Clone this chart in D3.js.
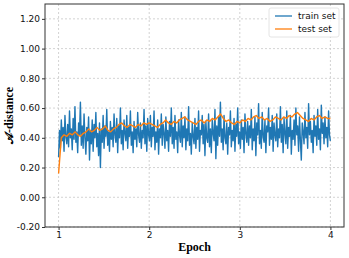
<!doctype html>
<html lang="en-US">
<head>
<meta charset="utf-8">
<title>A-distance per epoch</title>
<script src="https://cdn.jsdelivr.net/npm/d3@7/dist/d3.min.js"></script>
<style>
  html, body {
    margin: 0px;
    padding: 0px;
    background: #fff;
  }
  svg {
    display: block;
  }
  .tick text {
    font: 9px "DejaVu Sans", sans-serif;
    fill: #111;
  }
  .axis-title {
    font-family: "Liberation Serif", "Times New Roman", serif;
    font-weight: bold;
    font-size: 12px;
    fill: #000;
  }
  .legend text {
    font: 9px "DejaVu Sans", sans-serif;
    fill: #111;
  }
</style>
</head>
<body>
<svg id="chart" width="349" height="258"></svg>

<script>
// values
var epochStart = 1;
var epochEnd = 4;
var xTicks = [1, 2, 3, 4];
var yTicks = [-0.2, 0, 0.2, 0.4, 0.6, 0.8, 1.0, 1.2];

// train set: noisy A-distance, sampled evenly from epoch 1 to 4
var trainValues = [
  0.27, 0.45, 0.33, 0.52, 0.38, 0.47, 0.31, 0.55, 0.41, 0.36, 0.49, 0.34, 0.58, 0.40, 0.46,
  0.32, 0.53, 0.39, 0.61, 0.37, 0.44, 0.30, 0.50, 0.42, 0.64, 0.35, 0.48, 0.33, 0.56, 0.40,
  0.29, 0.47, 0.38, 0.54, 0.25, 0.45, 0.36, 0.52, 0.31, 0.49, 0.40, 0.57, 0.34, 0.43, 0.28,
  0.50, 0.20, 0.46, 0.37, 0.55, 0.33, 0.48, 0.41, 0.59, 0.35, 0.44, 0.31, 0.51, 0.39, 0.47,
  0.34, 0.56, 0.42, 0.37, 0.53, 0.30, 0.48, 0.40, 0.60, 0.36, 0.45, 0.32, 0.52, 0.43, 0.38,
  0.55, 0.33, 0.47, 0.41, 0.58, 0.35, 0.44, 0.30, 0.51, 0.39, 0.46, 0.34, 0.57, 0.42, 0.37,
  0.50, 0.33, 0.45, 0.40, 0.59, 0.36, 0.48, 0.31, 0.53, 0.42, 0.38, 0.55, 0.34, 0.47, 0.41,
  0.58, 0.32, 0.44, 0.37, 0.52, 0.29, 0.46, 0.40, 0.56, 0.35, 0.49, 0.43, 0.33, 0.54, 0.38,
  0.45, 0.31, 0.51, 0.41, 0.60, 0.36, 0.47, 0.33, 0.55, 0.39, 0.44, 0.30, 0.52, 0.42, 0.37,
  0.57, 0.34, 0.48, 0.40, 0.54, 0.32, 0.46, 0.38, 0.61, 0.35, 0.43, 0.29, 0.50, 0.41, 0.36,
  0.53, 0.33, 0.47, 0.39, 0.58, 0.31, 0.45, 0.42, 0.55, 0.36, 0.49, 0.28, 0.51, 0.40, 0.37,
  0.56, 0.34, 0.46, 0.30, 0.52, 0.43, 0.38, 0.59, 0.26, 0.48, 0.35, 0.54, 0.41, 0.64, 0.37,
  0.46, 0.32, 0.55, 0.40, 0.36, 0.50, 0.29, 0.47, 0.42, 0.58, 0.34, 0.45, 0.38, 0.53, 0.31,
  0.49, 0.41, 0.60, 0.36, 0.44, 0.33, 0.52, 0.39, 0.47, 0.30, 0.56, 0.43, 0.37, 0.51, 0.35,
  0.48, 0.40, 0.59, 0.32, 0.46, 0.38, 0.54, 0.28, 0.50, 0.42, 0.63, 0.36, 0.45, 0.33, 0.57,
  0.41, 0.37, 0.52, 0.30, 0.48, 0.44, 0.60, 0.35, 0.47, 0.39, 0.55, 0.31, 0.50, 0.42, 0.38,
  0.56, 0.34, 0.46, 0.40, 0.61, 0.37, 0.49, 0.30, 0.53, 0.43, 0.36, 0.58, 0.33, 0.47, 0.41,
  0.55, 0.29, 0.45, 0.39, 0.52, 0.35, 0.60, 0.42, 0.48, 0.31, 0.54, 0.38, 0.25, 0.50, 0.44,
  0.36, 0.57, 0.40, 0.47, 0.33, 0.63, 0.42, 0.51, 0.37, 0.45, 0.30, 0.55, 0.41, 0.48, 0.35,
  0.59, 0.39, 0.46, 0.32, 0.62, 0.43, 0.50, 0.36, 0.54, 0.40, 0.47, 0.34, 0.58, 0.42, 0.38
];

// test set: smoother curve
var testValues = [
  0.16, 0.40, 0.42, 0.41, 0.43, 0.42, 0.44, 0.42, 0.41, 0.43,
  0.44, 0.46, 0.44, 0.45, 0.47, 0.45, 0.46, 0.48, 0.45, 0.44,
  0.46, 0.47, 0.49, 0.50, 0.48, 0.47, 0.49, 0.48, 0.47, 0.49,
  0.48, 0.50, 0.49, 0.50, 0.49, 0.48, 0.47, 0.49, 0.50, 0.52,
  0.50, 0.49, 0.51, 0.50, 0.52, 0.53, 0.54, 0.52, 0.51, 0.50,
  0.49, 0.51, 0.52, 0.50, 0.52, 0.51, 0.53, 0.52, 0.54, 0.56,
  0.53, 0.51, 0.52, 0.50, 0.49, 0.51, 0.50, 0.52, 0.51, 0.53,
  0.52, 0.54, 0.55, 0.53, 0.54, 0.52, 0.53, 0.51, 0.52, 0.54,
  0.53, 0.52, 0.54, 0.53, 0.55, 0.54, 0.56, 0.57, 0.55, 0.53,
  0.52, 0.51, 0.53, 0.52, 0.54, 0.55, 0.53, 0.54, 0.53, 0.53
];

var seriesNames = ["train set", "test set"];
var seriesColors = ["#1f77b4", "#ff7f0e"];

// plot box (window.top is taken, so keep these in an object)
var box = { left: 45, right: 344, top: 4, bottom: 227 };

var svg = d3.select("#chart");

var x = d3.scaleLinear().domain([0.85, 4.15]).range([box.left, box.right]);
var y = d3.scaleLinear().domain([-0.2, 1.3]).range([box.bottom, box.top]);

function toPoints(values) {
  var n = values.length;
  return values.map(function(v, i) {
    return { epoch: epochStart + (epochEnd - epochStart) * i / (n - 1), value: v };
  });
}

// grid
svg.append("g")
  .selectAll("line")
  .data(xTicks)
  .join("line")
  .attr("x1", function(d) { return x(d); })
  .attr("x2", function(d) { return x(d); })
  .attr("y1", box.top)
  .attr("y2", box.bottom)
  .attr("stroke", "#c8c8c8")
  .attr("stroke-width", 0.8)
  .attr("stroke-dasharray", "2,2");

svg.append("g")
  .selectAll("line")
  .data(yTicks)
  .join("line")
  .attr("x1", box.left)
  .attr("x2", box.right)
  .attr("y1", function(d) { return y(d); })
  .attr("y2", function(d) { return y(d); })
  .attr("stroke", "#c8c8c8")
  .attr("stroke-width", 0.8)
  .attr("stroke-dasharray", "2,2");

var line = d3.line()
  .x(function(d) { return x(d.epoch); })
  .y(function(d) { return y(d.value); });

svg.append("path")
  .datum(toPoints(trainValues))
  .attr("fill", "none")
  .attr("stroke", seriesColors[0])
  .attr("stroke-width", 1.4)
  .attr("stroke-linejoin", "round")
  .attr("d", line);

svg.append("path")
  .datum(toPoints(testValues))
  .attr("fill", "none")
  .attr("stroke", seriesColors[1])
  .attr("stroke-width", 1.4)
  .attr("stroke-linejoin", "round")
  .attr("d", line);

// axes
var xAxis = d3.axisBottom(x)
  .tickValues(xTicks)
  .tickFormat(d3.format("d"))
  .tickSizeInner(3)
  .tickSizeOuter(0)
  .tickPadding(2);

var yAxis = d3.axisLeft(y)
  .tickValues(yTicks)
  .tickFormat(function(d) { return d3.format(".2f")(d).replace("\u2212", "-"); })
  .tickSizeInner(3)
  .tickSizeOuter(0)
  .tickPadding(2);

svg.append("g")
  .attr("transform", "translate(0," + box.bottom + ")")
  .call(xAxis)
  .call(function(g) { g.select(".domain").remove(); });

svg.append("g")
  .attr("transform", "translate(" + box.left + ",0)")
  .call(yAxis)
  .call(function(g) { g.select(".domain").remove(); });

svg.selectAll(".tick line").attr("stroke", "#333");

// frame
svg.append("rect")
  .attr("x", box.left)
  .attr("y", box.top)
  .attr("width", box.right - box.left)
  .attr("height", box.bottom - box.top)
  .attr("fill", "none")
  .attr("stroke", "#333")
  .attr("stroke-width", 1);

// axis titles
svg.append("text")
  .attr("class", "axis-title")
  .attr("x", (box.left + box.right) / 2)
  .attr("y", 251)
  .attr("text-anchor", "middle")
  .text("Epoch");

svg.append("text")
  .attr("class", "axis-title")
  .attr("transform", "translate(13," + ((box.top + box.bottom) / 2) + ") rotate(-90)")
  .attr("text-anchor", "middle")
  .text("\uD835\uDC9C-distance");

// legend
var legend = svg.append("g").attr("class", "legend");

legend.append("rect")
  .attr("x", 269)
  .attr("y", 8)
  .attr("width", 70)
  .attr("height", 29)
  .attr("rx", 2)
  .attr("fill", "#fff")
  .attr("fill-opacity", 0.85)
  .attr("stroke", "#ddd")
  .attr("stroke-width", 0.8);

var rows = legend.selectAll("g.row")
  .data(seriesNames)
  .join("g")
  .attr("class", "row")
  .attr("transform", function(d, i) { return "translate(0," + (16 + i * 13) + ")"; });

rows.append("line")
  .attr("x1", 275)
  .attr("x2", 292)
  .attr("stroke", function(d, i) { return seriesColors[i]; })
  .attr("stroke-width", 1.3);

rows.append("text")
  .attr("x", 298)
  .attr("dy", "0.35em")
  .text(function(d) { return d; });
</script>
</body>
</html>
